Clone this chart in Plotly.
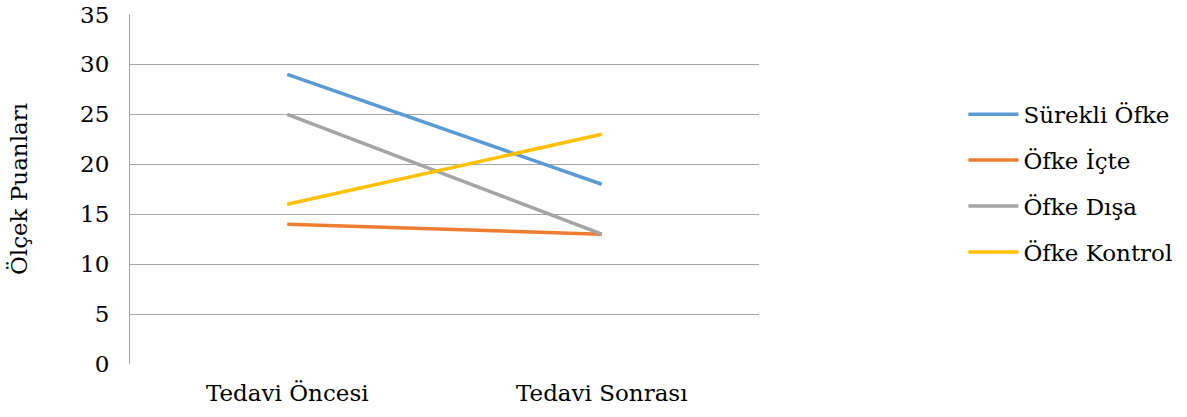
import plotly.graph_objects as go

categories = ["Tedavi Öncesi", "Tedavi Sonrası"]
series_names = ["Sürekli Öfke", "Öfke İçte", "Öfke Dışa", "Öfke Kontrol"]
surekli = [29, 18]
icte = [14, 13]
disa = [25, 13]
kontrol = [16, 23]
y_ticks = [0, 5, 10, 15, 20, 25, 30, 35]
colors = ["#5B9BD5", "#ED7D31", "#A5A5A5", "#FFC000"]

FONT = "DejaVu Serif"
FS = 23

fig = go.Figure()
for i, (name, vals) in enumerate(zip(series_names, [surekli, icte, disa, kontrol])):
    fig.add_trace(go.Scatter(
        x=categories, y=vals, mode="lines", name=name,
        line=dict(color=colors[i], width=3.5),
        legendgroup=f"g{i}",
    ))

fig.update_layout(
    width=1187, height=417,
    margin=dict(l=130, r=428, t=14, b=53, autoexpand=False),
    plot_bgcolor="white", paper_bgcolor="white",
    font=dict(family=FONT, size=FS, color="black"),
    showlegend=True,
    legend=dict(
        x=1.325, y=0.775, xanchor="left", yanchor="top",
        traceorder="grouped", tracegroupgap=13,
        font=dict(family=FONT, size=FS, color="black"),
        itemwidth=50,
    ),
    xaxis=dict(
        type="category", range=[-0.5, 1.5],
        showgrid=False, showline=False, zeroline=False,
        ticks="", tickfont=dict(size=FS), automargin=False,
        ticklabelstandoff=13,
    ),
    yaxis=dict(
        range=[0, 35.05], tickvals=y_ticks,
        showgrid=True, gridcolor="#A6A6A6", gridwidth=1,
        showline=True, linecolor="#A6A6A6", linewidth=1,
        zeroline=False, ticks="", ticklabelstandoff=15,
        ticklabeloverflow="allow",
        tickfont=dict(size=FS), automargin=False,
        title=dict(text="Ölçek Puanları", font=dict(size=FS), standoff=46),
    ),
)

fig.write_html(
    "out.html",
    config={"displayModeBar": False},
    post_script="document.body.style.margin='0';",
)
